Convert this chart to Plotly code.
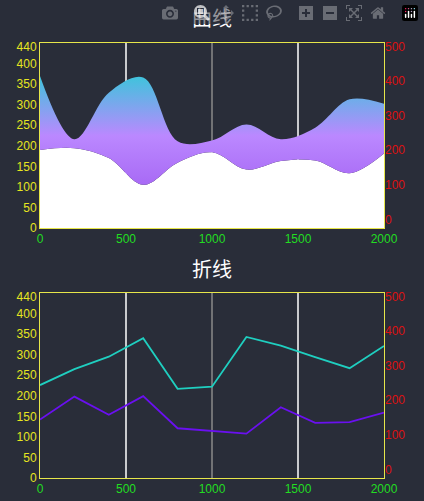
import plotly.graph_objects as go

x_vals = [0, 200, 400, 600, 800, 1000, 1200, 1400, 1600, 1800, 2000]
# 曲线 (smooth area)
curve_low = [190, 194, 170, 105, 159, 184, 142, 163, 164, 133, 181]
curve_high = [370, 216, 329, 366, 211, 213, 252, 216, 244, 313, 302]
# 折线 (lines)
line_cyan = [226, 265, 295, 340, 217, 222, 343, 322, 294, 267, 321]
line_purple = [142, 198, 154, 199, 121, 114, 108, 172, 134, 136, 159]

left_ticks = [0, 50, 100, 150, 200, 250, 300, 350, 400, 440]
right_ticks = [0, 100, 200, 300, 400, 500]
x_ticks = [0, 500, 1000, 1500, 2000]
vlines = [(500, "white"), (1000, "#8a8a8a"), (1500, "white")]

BG = "#292d39"
FONT = "Liberation Sans"

fig = go.Figure()

# --- top: smooth areas ---
fig.add_trace(go.Scatter(x=x_vals, y=curve_low, mode="lines", line=dict(shape="spline", color="white", width=0),
                         fill="tozeroy", fillcolor="white", xaxis="x", yaxis="y", showlegend=False))
fig.add_trace(go.Scatter(x=x_vals, y=curve_high, mode="lines", line=dict(shape="spline", color="rgba(0,0,0,0)", width=0),
                         fill="tonexty",
                         fillgradient=dict(type="vertical", colorscale=[[0, "#a86af5"], [0.45, "#bb88ff"], [1, "#3ec4dc"]]),
                         xaxis="x", yaxis="y", showlegend=False))

# --- bottom: lines ---
fig.add_trace(go.Scatter(x=x_vals, y=line_cyan, mode="lines", line=dict(color="#1fcfc0", width=1.8),
                         xaxis="x2", yaxis="y3", showlegend=False))
fig.add_trace(go.Scatter(x=x_vals, y=line_purple, mode="lines", line=dict(color="#6a10f0", width=1.8),
                         xaxis="x2", yaxis="y3", showlegend=False))

top_dom = [1 - 228 / 501, 1 - 43 / 501]
bot_dom = [1 - 478 / 501, 1 - 293 / 501]

xa = dict(range=[0, 2000], tickvals=x_ticks, tickfont=dict(color="#22dd22", size=12), showgrid=False, zeroline=False,
          showline=True, linecolor="#e6e64a", mirror=True, ticks="")
ya = dict(range=[0, 450], tickvals=left_ticks, tickfont=dict(color="#e6e620", size=12), showgrid=False, zeroline=False,
          showline=True, linecolor="#e6e64a", mirror=True, ticks="")
yr = dict(range=[-25, 510], tickvals=right_ticks, tickfont=dict(color="#dd1111", size=12), showgrid=False,
          zeroline=False, side="right", ticks="")

fig.update_layout(
    width=424, height=501, paper_bgcolor=BG, plot_bgcolor=BG,
    margin=dict(l=40, r=40, t=0, b=0, autoexpand=False),
    font=dict(family=FONT),
    xaxis=dict(xa, domain=[0, 1], anchor="y"),
    yaxis=dict(ya, domain=top_dom, anchor="x"),
    yaxis2=dict(yr, overlaying="y", anchor="x"),
    xaxis2=dict(xa, domain=[0, 1], anchor="y3"),
    yaxis3=dict(ya, domain=bot_dom, anchor="x2"),
    yaxis4=dict(yr, overlaying="y3", anchor="x2"),
    annotations=[
        dict(text="曲线", x=0.5, y=1 - 18 / 501, xref="paper", yref="paper", yanchor="middle", showarrow=False,
             font=dict(size=20, color="white", family="Noto Sans CJK SC")),
        dict(text="折线", x=0.5, y=1 - 268 / 501, xref="paper", yref="paper", yanchor="middle", showarrow=False,
             font=dict(size=20, color="white", family="Noto Sans CJK SC")),
    ],
)
# dummy traces so right axes render
fig.add_trace(go.Scatter(x=[None], y=[None], xaxis="x", yaxis="y2", showlegend=False))
fig.add_trace(go.Scatter(x=[None], y=[None], xaxis="x2", yaxis="y4", showlegend=False))

for xv, col in vlines:
    for xr, yr_ in (("x", "y"), ("x2", "y3")):
        fig.add_shape(type="line", x0=xv, x1=xv, y0=0, y1=1, xref=xr, yref=yr_ + " domain",
                      line=dict(color=col, width=1.5), layer="below")

fig.write_html("out.html", post_script="document.body.style.margin='0';document.body.style.overflow='hidden';")
